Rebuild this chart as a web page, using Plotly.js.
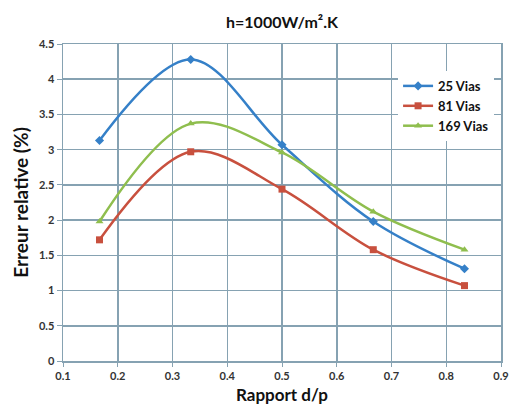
<!DOCTYPE html>
<html>
<head>
<meta charset="utf-8">
<script src="https://cdn.plot.ly/plotly-3.0.1.min.js"></script>
<style>html,body{margin:0;padding:0;background:#fff;}#chart{width:513px;height:410px;}</style>
</head>
<body>
<div id="chart"></div>
<script>
const ratios = [0.1667, 0.3333, 0.5, 0.6667, 0.8333];
const vias25 = [3.13, 4.28, 3.07, 1.98, 1.31];
const vias81 = [1.72, 2.97, 2.44, 1.58, 1.07];
const vias169 = [1.98, 3.37, 2.96, 2.12, 1.58];
const seriesNames = ['25 Vias', '81 Vias', '169 Vias'];
const xTicks = [0.1, 0.2, 0.3, 0.4, 0.5, 0.6, 0.7, 0.8, 0.9];
const yTicks = [0, 0.5, 1, 1.5, 2, 2.5, 3, 3.5, 4, 4.5];

const colors = ['#3580c8', '#c8503e', '#8fbe4e'];
const symbols = ['diamond', 'square', 'triangle-up'];
const ys = [vias25, vias81, vias169];

const traces = ys.map((y, i) => ({
  x: ratios, y: y, name: '<b>' + seriesNames[i] + '</b>', type: 'scatter', mode: 'lines+markers',
  line: {color: colors[i], width: 2.5, shape: 'spline', smoothing: 1},
  marker: {color: colors[i], symbol: symbols[i], size: 7}
}));

const gridColor = '#86a2b2';
const font = 'Lato, "Open Sans", sans-serif';
const layout = {
  width: 513, height: 410,
  margin: {l: 63, r: 12, t: 44, b: 49},
  paper_bgcolor: '#fff', plot_bgcolor: '#fff',
  font: {family: font, color: '#222'},
  title: {text: '<b>h=1000W/m².K</b>', x: 0.5, xref: 'paper', y: 0.946, yanchor: 'middle', font: {size: 16, family: font, color: '#111'}},
  xaxis: {
    range: [0.1, 0.9], tickvals: xTicks, ticktext: xTicks.map(v => '<b>' + v + '</b>'),
    showgrid: true, gridcolor: gridColor, gridwidth: 1.5, zeroline: false,
    showline: true, mirror: true, linecolor: gridColor, linewidth: 1.5,
    ticks: 'outside', ticklen: 4, tickcolor: gridColor,
    tickfont: {size: 11, color: '#333'},
    title: {text: '<b>Rapport d/p</b>', font: {size: 17, color: '#111'}, standoff: 8}
  },
  yaxis: {
    range: [0, 4.5], tickvals: yTicks, ticktext: yTicks.map(v => '<b>' + v + '</b>'),
    showgrid: true, gridcolor: gridColor, gridwidth: 1.5, zeroline: false,
    showline: true, mirror: true, linecolor: gridColor, linewidth: 1.5,
    ticks: 'outside', ticklen: 5, tickcolor: gridColor,
    tickfont: {size: 11, color: '#333'},
    title: {text: '<b>Erreur relative (%)</b>', font: {size: 19, color: '#111'}, standoff: 5}
  },
  legend: {
    x: 0.765, y: 0.915, xanchor: 'left', yanchor: 'top',
    bgcolor: '#fff', borderwidth: 0,
    font: {size: 13, color: '#111', family: font},
    itemwidth: 30
  },
  showlegend: true
};
Plotly.newPlot('chart', traces, layout, {displayModeBar: false, staticPlot: true});
</script>
</body>
</html>
